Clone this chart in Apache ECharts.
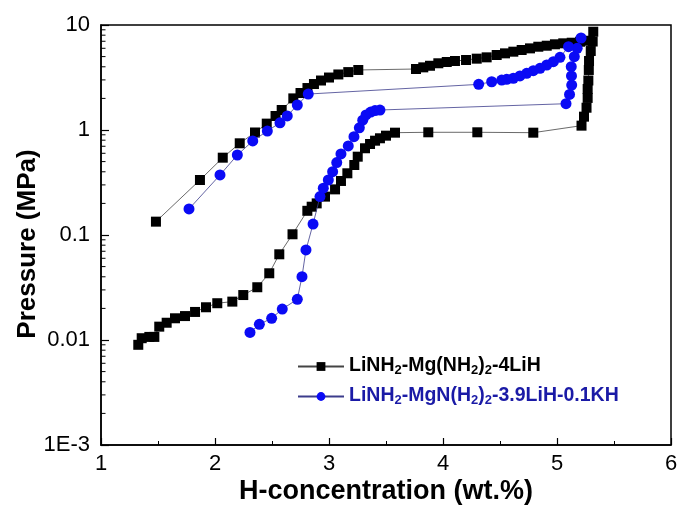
<!DOCTYPE html>
<html><head><meta charset="utf-8">
<script src="https://cdn.jsdelivr.net/npm/echarts@6/dist/echarts.min.js"></script>
<style>html,body{margin:0;padding:0;background:#fff}#c{width:686px;height:507px}</style>
</head><body><div id="c"></div>
<script>
// ---- data ----
var seriesNames = ['LiNH2-Mg(NH2)2-4LiH', 'LiNH2-MgN(H2)2-3.9LiH-0.1KH'];
// black: absorption branch
var blackAbsX = [1.327,1.357,1.424,1.468,1.511,1.576,1.649,1.737,1.825,1.921,2.020,2.152,2.248,2.371,2.476,2.564,2.680,2.810,2.848,2.892,2.965,3.053,3.105,3.161,3.222,3.252,3.316,3.360,3.404,3.447,3.500,3.579,3.871,4.301,4.792,5.215,5.237,5.259,5.269,5.269,5.275,5.279,5.281,5.296,5.313,5.318];
var blackAbsY = [0.0090,0.0104,0.0107,0.0107,0.0134,0.0146,0.0161,0.0169,0.0185,0.0205,0.0224,0.0232,0.0268,0.0318,0.0432,0.0655,0.1016,0.170,0.186,0.200,0.232,0.272,0.327,0.387,0.464,0.557,0.670,0.736,0.791,0.834,0.883,0.943,0.951,0.951,0.943,1.10,1.34,1.63,2.02,2.46,2.96,3.73,4.54,5.65,6.96,8.63];
// black: desorption branch
var blackDesX = [5.289,5.202,5.129,5.055,4.982,4.910,4.836,4.763,4.690,4.617,4.544,4.471,4.383,4.296,4.202,4.105,4.033,3.959,3.886,3.827,3.763,3.257,3.169,3.082,3.000,2.930,2.868,2.811,2.750,2.687,2.585,2.531,2.454,2.351,2.217,2.068,1.868,1.482];
var blackDesY = [7.08,6.93,6.78,6.69,6.55,6.35,6.21,5.99,5.78,5.57,5.37,5.18,4.92,4.78,4.64,4.54,4.44,4.32,4.09,3.95,3.81,3.73,3.56,3.38,3.16,2.96,2.74,2.51,2.25,2.00,1.55,1.36,1.15,0.947,0.747,0.545,0.334,0.134];
// blue: absorption branch
var blueAbsX = [2.307,2.389,2.497,2.590,2.722,2.763,2.798,2.860,2.921,2.950,2.994,3.032,3.068,3.105,3.169,3.219,3.266,3.296,3.325,3.366,3.404,3.447,5.079,5.110,5.129,5.127,5.125,5.152,5.177,5.211];
var blueAbsY = [0.0118,0.0141,0.0161,0.0197,0.0244,0.0401,0.0720,0.127,0.232,0.279,0.334,0.401,0.489,0.591,0.705,0.863,1.05,1.24,1.39,1.48,1.53,1.55,1.78,2.18,2.68,3.27,4.01,4.99,5.99,7.52];
// blue: desorption branch
var blueDesX = [5.101,5.026,4.968,4.910,4.851,4.792,4.734,4.675,4.617,4.559,4.515,4.427,4.313,2.818,2.722,2.634,2.570,2.459,2.331,2.196,2.044,1.772];
var blueDesY = [6.21,4.92,4.47,4.16,3.87,3.67,3.47,3.27,3.11,3.04,2.99,2.88,2.72,2.20,1.73,1.36,1.17,0.978,0.786,0.578,0.373,0.177];

var yTickValues = [0.001, 0.01, 0.1, 1, 10];
var yTickLabels = ['1E-3', '0.01', '0.1', '1', '10'];
var xTitle = 'H-concentration (wt.%)';
var yTitle = 'Pressure (MPa)';

function zip(xs, ys){ return xs.map(function(x,i){ return [x, ys[i]]; }); }
// minor log tick positions 2..9 per decade
var minorTicks = [];
[0.001,0.01,0.1,1].forEach(function(d){ for (var k=2;k<=9;k++) minorTicks.push([1, +(d*k).toPrecision(3)]); });

var FF = 'Arial, "Liberation Sans", sans-serif';
var chart = echarts.init(document.getElementById('c'));
var blackStyle = {
  type:'line', name: seriesNames[0], symbol:'rect', symbolSize:10,
  itemStyle:{color:'#000'}, lineStyle:{color:'#444', width:0.8}, z:3
};
var blueStyle = {
  type:'line', name: seriesNames[1], symbol:'circle', symbolSize:11,
  itemStyle:{color:'#0a0af5'}, lineStyle:{color:'#3c3c8c', width:0.8}, z:4
};
chart.setOption({
  animation:false,
  grid:{left:101, right:15, top:25, bottom:62, show:true, borderColor:'#000', borderWidth:1.5,
        containLabel:false, outerBoundsMode:'none'},
  xAxis:{
    type:'value', min:1, max:6, interval:1,
    axisLine:{lineStyle:{color:'#000', width:1.5}},
    axisTick:{inside:true, length:7, lineStyle:{color:'#000', width:1.2}},
    minorTick:{show:true, splitNumber:2, length:4, lineStyle:{color:'#000', width:1}},
    splitLine:{show:false},
    axisLabel:{color:'#000', fontSize:22, fontFamily:FF, margin:8},
    name: xTitle, nameLocation:'middle', nameGap:33, nameMoveOverlap:false,
    nameTextStyle:{color:'#000', fontSize:27, fontWeight:'bold', fontFamily:FF}
  },
  yAxis:{
    type:'log', min:0.001, max:10, logBase:10,
    axisLine:{lineStyle:{color:'#000', width:1.5}},
    axisTick:{inside:true, length:8, lineStyle:{color:'#000', width:1.2}},
    splitLine:{show:false},
    axisLabel:{color:'#000', fontSize:22, fontFamily:FF, margin:11,
      formatter:function(v){ for (var i=0;i<yTickValues.length;i++){ if (Math.abs(Math.log10(v)-Math.log10(yTickValues[i]))<1e-6) return yTickLabels[i]; } return ''; }},
    name: yTitle, nameLocation:'middle', nameGap:60, nameMoveOverlap:false,
    nameTextStyle:{color:'#000', fontSize:26, fontWeight:'bold', fontFamily:FF, padding:[0,18,0,0]}
  },
  legend:{
    left:292, top:348, orient:'vertical', itemGap:6, itemWidth:46, itemHeight:11,
    data:[seriesNames[0], seriesNames[1]],
    formatter:function(name){
      if (name === seriesNames[0]) return '{a|LiNH}{s|2}{a|-Mg(NH}{s|2}{a|)}{s|2}{a|-4LiH}';
      return '{b|LiNH}{t|2}{b|-MgN(H}{t|2}{b|)}{t|2}{b|-3.9LiH-0.1KH}';
    },
    textStyle:{fontFamily:FF, rich:{
      a:{fontSize:19.5, fontWeight:'bold', color:'#000', fontFamily:FF, verticalAlign:'top', lineHeight:21},
      s:{fontSize:13, fontWeight:'bold', color:'#000', fontFamily:FF, verticalAlign:'bottom', lineHeight:21, padding:[11,0,0,0]},
      b:{fontSize:19.5, fontWeight:'bold', color:'#1a1aa6', fontFamily:FF, verticalAlign:'top', lineHeight:21},
      t:{fontSize:13, fontWeight:'bold', color:'#1a1aa6', fontFamily:FF, verticalAlign:'bottom', lineHeight:21, padding:[11,0,0,0]}
    }}
  },
  series:[
    Object.assign({}, blackStyle, {data: zip(blackAbsX, blackAbsY)}),
    Object.assign({}, blackStyle, {data: zip(blackDesX, blackDesY)}),
    Object.assign({}, blueStyle, {data: zip(blueAbsX, blueAbsY)}),
    Object.assign({}, blueStyle, {data: zip(blueDesX, blueDesY)}),
    {
      type:'custom', name:'minorTicks', silent:true, clip:false, z:1,
      data: minorTicks,
      renderItem:function(params, api){
        var p = api.coord([api.value(0), api.value(1)]);
        return {type:'line', shape:{x1:p[0], y1:p[1], x2:p[0]+4.5, y2:p[1]}, style:{stroke:'#000', lineWidth:1}};
      }
    }
  ]
});
</script></body></html>
